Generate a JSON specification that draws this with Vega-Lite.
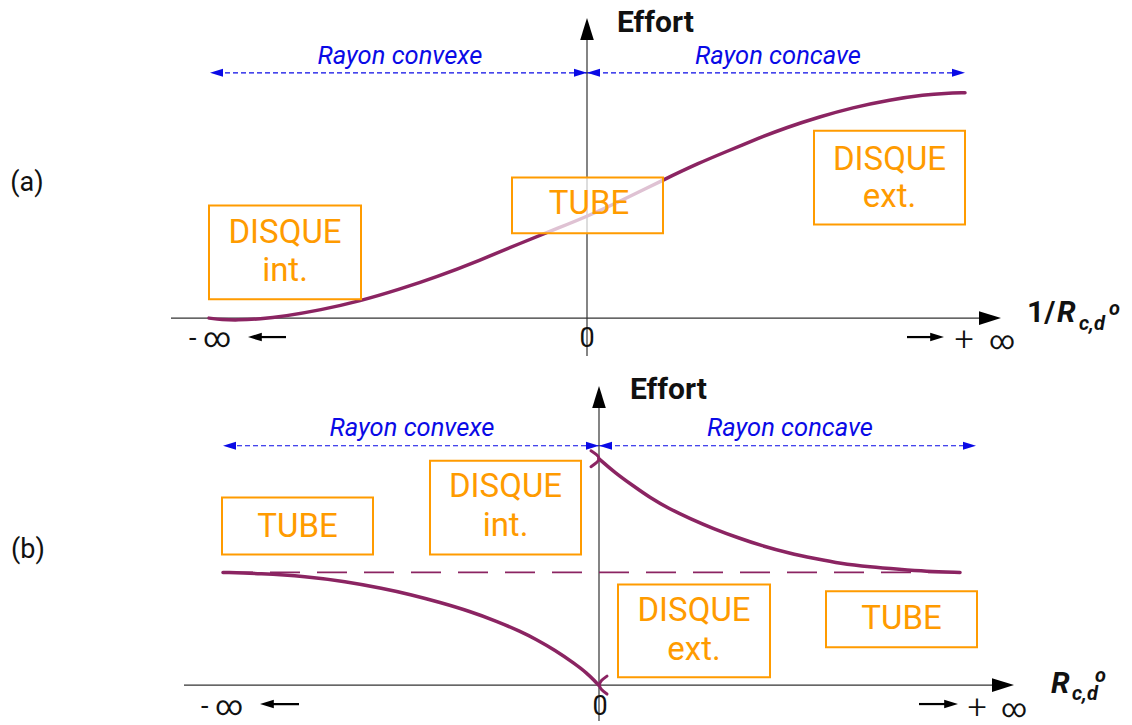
{
  "$schema": "https://vega.github.io/schema/vega-lite/v6.json",
  "background": "white",
  "padding": 0,
  "autosize": {"type": "fit", "contains": "padding"},
  "width": 1132,
  "height": 725,
  "config": {"view": {"stroke": null}, "font": "Roboto"},
  "datasets": {
    "axes": [
      {"panel": "a", "x": -4.16, "x2": 4.05, "y": 4.06, "y2": 4.06},
      {"panel": "a", "x": 0, "x2": 0, "y": 3.68, "y2": 6.96},
      {"panel": "b", "x": -4.03, "x2": 4.17, "y": 0.38, "y2": 0.38},
      {"panel": "b", "x": 0.12, "x2": 0.12, "y": 0.02, "y2": 3.28}
    ],
    "axisHeads": [
      {"panel": "a", "x": 4.14, "y": 4.06, "dir": "right"},
      {"panel": "a", "x": 0, "y": 7.07, "dir": "up"},
      {"panel": "b", "x": 4.27, "y": 0.38, "dir": "right"},
      {"panel": "b", "x": 0.12, "y": 3.38, "dir": "up"}
    ],
    "spans": [
      {"panel": "a", "x": -3.7, "x2": 0, "y": 6.52, "y2": 6.52},
      {"panel": "a", "x": 0, "x2": 3.72, "y": 6.52, "y2": 6.52},
      {"panel": "b", "x": -3.58, "x2": 0.12, "y": 2.78, "y2": 2.78},
      {"panel": "b", "x": 0.12, "x2": 3.83, "y": 2.78, "y2": 2.78}
    ],
    "spanHeads": [
      {"panel": "a", "x": -3.77, "y": 6.52, "dir": "left"},
      {"panel": "a", "x": 0, "y": 6.52, "dir": "right"},
      {"panel": "a", "x": 0, "y": 6.52, "dir": "left"},
      {"panel": "a", "x": 3.78, "y": 6.52, "dir": "right"},
      {"panel": "b", "x": -3.64, "y": 2.78, "dir": "left"},
      {"panel": "b", "x": 0.12, "y": 2.78, "dir": "right"},
      {"panel": "b", "x": 0.12, "y": 2.78, "dir": "left"},
      {"panel": "b", "x": 3.89, "y": 2.78, "dir": "right"}
    ],
    "spanLabels": [
      {"panel": "a", "x": -1.87, "y": 6.61, "text": "Rayon convexe"},
      {"panel": "a", "x": 1.91, "y": 6.61, "text": "Rayon concave"},
      {"panel": "b", "x": -1.75, "y": 2.88, "text": "Rayon convexe"},
      {"panel": "b", "x": 2.03, "y": 2.88, "text": "Rayon concave"}
    ],
    "asymptote": [{"panel": "b", "x": -3.64, "x2": 3.73, "y": 1.51, "y2": 1.51}],
    "curves": [
      {"branch": "a", "x": -3.78, "y": 4.06}, {"branch": "a", "x": -3.65, "y": 4.045}, {"branch": "a", "x": -3.5, "y": 4.04},
      {"branch": "a", "x": -3.27, "y": 4.05}, {"branch": "a", "x": -3.02, "y": 4.08}, {"branch": "a", "x": -2.67, "y": 4.14},
      {"branch": "a", "x": -2.27, "y": 4.23}, {"branch": "a", "x": -1.87, "y": 4.35}, {"branch": "a", "x": -1.51, "y": 4.47},
      {"branch": "a", "x": -1.07, "y": 4.64}, {"branch": "a", "x": -0.67, "y": 4.81}, {"branch": "a", "x": -0.27, "y": 4.97},
      {"branch": "a", "x": 0.0, "y": 5.08}, {"branch": "a", "x": 0.33, "y": 5.23}, {"branch": "a", "x": 0.77, "y": 5.45},
      {"branch": "a", "x": 1.13, "y": 5.62}, {"branch": "a", "x": 1.37, "y": 5.72}, {"branch": "a", "x": 1.73, "y": 5.87},
      {"branch": "a", "x": 1.99, "y": 5.97}, {"branch": "a", "x": 2.33, "y": 6.08}, {"branch": "a", "x": 2.65, "y": 6.17},
      {"branch": "a", "x": 3.03, "y": 6.25}, {"branch": "a", "x": 3.38, "y": 6.3}, {"branch": "a", "x": 3.58, "y": 6.315},
      {"branch": "a", "x": 3.78, "y": 6.32},
      {"branch": "b convexe", "x": -3.64, "y": 1.51}, {"branch": "b convexe", "x": -3.27, "y": 1.5}, {"branch": "b convexe", "x": -2.81, "y": 1.47},
      {"branch": "b convexe", "x": -2.42, "y": 1.42}, {"branch": "b convexe", "x": -2.04, "y": 1.35}, {"branch": "b convexe", "x": -1.77, "y": 1.29},
      {"branch": "b convexe", "x": -1.47, "y": 1.21}, {"branch": "b convexe", "x": -1.17, "y": 1.12}, {"branch": "b convexe", "x": -0.9, "y": 1.02},
      {"branch": "b convexe", "x": -0.67, "y": 0.92}, {"branch": "b convexe", "x": -0.51, "y": 0.84}, {"branch": "b convexe", "x": -0.32, "y": 0.73},
      {"branch": "b convexe", "x": -0.13, "y": 0.6}, {"branch": "b convexe", "x": 0.0, "y": 0.5}, {"branch": "b convexe", "x": 0.08, "y": 0.42},
      {"branch": "b convexe", "x": 0.115, "y": 0.38},
      {"branch": "b concave", "x": 0.12, "y": 2.65}, {"branch": "b concave", "x": 0.28, "y": 2.51}, {"branch": "b concave", "x": 0.46, "y": 2.38},
      {"branch": "b concave", "x": 0.63, "y": 2.26}, {"branch": "b concave", "x": 0.82, "y": 2.15}, {"branch": "b concave", "x": 1.03, "y": 2.05},
      {"branch": "b concave", "x": 1.26, "y": 1.95}, {"branch": "b concave", "x": 1.53, "y": 1.85}, {"branch": "b concave", "x": 1.74, "y": 1.78},
      {"branch": "b concave", "x": 2.03, "y": 1.7}, {"branch": "b concave", "x": 2.28, "y": 1.65}, {"branch": "b concave", "x": 2.53, "y": 1.6},
      {"branch": "b concave", "x": 2.83, "y": 1.565}, {"branch": "b concave", "x": 3.13, "y": 1.54}, {"branch": "b concave", "x": 3.38, "y": 1.52},
      {"branch": "b concave", "x": 3.73, "y": 1.51}
    ],
    "brackets": [
      {"end": "top", "i": 0, "x": 0.04, "y": 2.73}, {"end": "top", "i": 1, "x": 0.095, "y": 2.69}, {"end": "top", "i": 2, "x": 0.12, "y": 2.65},
      {"end": "top", "i": 3, "x": 0.095, "y": 2.61}, {"end": "top", "i": 4, "x": 0.04, "y": 2.57},
      {"end": "bottom", "i": 0, "x": 0.2, "y": 0.47}, {"end": "bottom", "i": 1, "x": 0.145, "y": 0.425}, {"end": "bottom", "i": 2, "x": 0.125, "y": 0.38},
      {"end": "bottom", "i": 3, "x": 0.145, "y": 0.335}, {"end": "bottom", "i": 4, "x": 0.2, "y": 0.29}
    ],
    "boxes": [
      {"panel": "a", "x": -3.78, "x2": -2.26, "y": 5.19, "y2": 4.25},
      {"panel": "a", "x": -0.75, "x2": 0.76, "y": 5.47, "y2": 4.91},
      {"panel": "a", "x": 2.27, "x2": 3.78, "y": 5.94, "y2": 5.0},
      {"panel": "b", "x": -3.65, "x2": -2.14, "y": 2.26, "y2": 1.69},
      {"panel": "b", "x": -1.57, "x2": -0.06, "y": 2.63, "y2": 1.69},
      {"panel": "b", "x": 0.31, "x2": 1.83, "y": 1.39, "y2": 0.46},
      {"panel": "b", "x": 2.39, "x2": 3.9, "y": 1.32, "y2": 0.76}
    ],
    "boxText": [
      {"panel": "a", "x": -3.02, "y": 4.81, "text": "DISQUE"},
      {"panel": "a", "x": -3.02, "y": 4.43, "text": "int."},
      {"panel": "a", "x": 0.02, "y": 5.1, "text": "TUBE"},
      {"panel": "a", "x": 3.025, "y": 5.55, "text": "DISQUE"},
      {"panel": "a", "x": 3.025, "y": 5.17, "text": "ext."},
      {"panel": "b", "x": -2.895, "y": 1.87, "text": "TUBE"},
      {"panel": "b", "x": -0.815, "y": 2.27, "text": "DISQUE"},
      {"panel": "b", "x": -0.815, "y": 1.88, "text": "int."},
      {"panel": "b", "x": 1.07, "y": 1.02, "text": "DISQUE"},
      {"panel": "b", "x": 1.07, "y": 0.63, "text": "ext."},
      {"panel": "b", "x": 3.145, "y": 0.94, "text": "TUBE"}
    ],
    "ends": [
      {"panel": "a", "x": 0, "y": 3.77, "text": "0"},
      {"panel": "a", "x": -3.77, "y": 3.77, "text": "- ∞"},
      {"panel": "b", "x": 0.13, "y": 0.08, "text": "0"},
      {"panel": "b", "x": -3.65, "y": 0.08, "text": "- ∞"}
    ],
    "plusEnds": [
      {"panel": "a", "x": 3.77, "y": 3.74, "text": "+"},
      {"panel": "b", "x": 3.9, "y": 0.05, "text": "+"}
    ],
    "infEnds": [
      {"panel": "a", "x": 4.15, "y": 3.75, "text": "∞"},
      {"panel": "b", "x": 4.27, "y": 0.06, "text": "∞"}
    ],
    "infLines": [
      {"panel": "a", "x": -3.01, "x2": -3.33, "y": 3.87, "y2": 3.87},
      {"panel": "a", "x": 3.2, "x2": 3.5, "y": 3.87, "y2": 3.87},
      {"panel": "b", "x": -2.88, "x2": -3.21, "y": 0.19, "y2": 0.19},
      {"panel": "b", "x": 3.32, "x2": 3.64, "y": 0.19, "y2": 0.19}
    ],
    "infHeads": [
      {"panel": "a", "x": -3.39, "y": 3.87, "dir": "left"},
      {"panel": "a", "x": 3.57, "y": 3.87, "dir": "right"},
      {"panel": "b", "x": -3.27, "y": 0.19, "dir": "left"},
      {"panel": "b", "x": 3.71, "y": 0.19, "dir": "right"}
    ],
    "titles": [
      {"panel": "a", "x": 0.3, "y": 6.93, "text": "Effort"},
      {"panel": "b", "x": 0.43, "y": 3.25, "text": "Effort"}
    ],
    "panelLabels": [
      {"panel": "a", "x": -5.6, "y": 5.33, "text": "(a)"},
      {"panel": "b", "x": -5.59, "y": 1.65, "text": "(b)"}
    ],
    "mathUp": [{"panel": "a", "x": 4.4, "y": 4.02, "text": "1/"}],
    "mathIt": [
      {"panel": "a", "x": 4.7, "y": 4.02, "text": "R"},
      {"panel": "b", "x": 4.64, "y": 0.3, "text": "R"}
    ],
    "mathScript": [
      {"panel": "a", "x": 4.92, "y": 3.94, "text": "c,d"},
      {"panel": "a", "x": 5.22, "y": 4.09, "text": "o"},
      {"panel": "b", "x": 4.85, "y": 0.23, "text": "c,d"},
      {"panel": "b", "x": 5.08, "y": 0.41, "text": "o"}
    ]
  },
  "encoding": {
    "x": {"field": "x", "type": "quantitative", "scale": {"domain": [-5.87, 5.45], "nice": false, "zero": false}, "axis": null},
    "y": {"field": "y", "type": "quantitative", "scale": {"domain": [0, 7.25], "nice": false, "zero": false}, "axis": null}
  },
  "layer": [
    {"data": {"name": "spans"}, "mark": {"type": "rule", "color": "#0a0ae6", "strokeWidth": 1.2, "strokeDash": [5, 3]}, "encoding": {"x2": {"field": "x2"}, "y2": {"field": "y2"}}},
    {"data": {"name": "spanHeads"}, "mark": {"type": "point", "filled": true, "opacity": 1, "color": "#0a0ae6", "size": 169, "strokeWidth": 0},
     "encoding": {"shape": {"field": "dir", "type": "nominal", "legend": null, "scale": {"domain": ["left", "right", "up"], "range": ["M0,0L2,-0.62L2,0.62Z", "M0,0L-2,-0.62L-2,0.62Z", "M0,0L-0.62,2L0.62,2Z"]}}}},
    {"data": {"name": "spanLabels"}, "mark": {"type": "text", "font": "Roboto", "fontSize": 25.5, "fontStyle": "italic", "color": "#0a0ae6", "align": "center", "baseline": "alphabetic"}, "encoding": {"text": {"field": "text"}}},
    {"data": {"name": "axes"}, "mark": {"type": "rule", "color": "#333333", "strokeWidth": 1.2}, "encoding": {"x2": {"field": "x2"}, "y2": {"field": "y2"}}},
    {"data": {"name": "axisHeads"}, "mark": {"type": "point", "filled": true, "opacity": 1, "color": "black", "size": 484, "strokeWidth": 0},
     "encoding": {"shape": {"field": "dir", "type": "nominal", "legend": null, "scale": {"domain": ["left", "right", "up"], "range": ["M0,0L2,-0.62L2,0.62Z", "M0,0L-2,-0.62L-2,0.62Z", "M0,0L-0.62,2L0.62,2Z"]}}}},
    {"data": {"name": "asymptote"}, "mark": {"type": "rule", "color": "#8b2462", "strokeWidth": 1.8, "strokeDash": [30, 17]}, "encoding": {"x2": {"field": "x2"}, "y2": {"field": "y2"}}},
    {"data": {"name": "curves"}, "mark": {"type": "line", "color": "#8b2462", "strokeWidth": 3.5, "interpolate": "basis", "strokeCap": "round"}, "encoding": {"detail": {"field": "branch"}}},
    {"data": {"name": "brackets"}, "mark": {"type": "line", "color": "#8b2462", "strokeWidth": 3, "interpolate": "natural", "strokeCap": "round"}, "encoding": {"detail": {"field": "end"}, "order": {"field": "i", "type": "quantitative"}}},
    {"data": {"name": "boxes"}, "mark": {"type": "rect", "fill": "white", "fillOpacity": 0.72, "stroke": "#ff9b00", "strokeWidth": 2}, "encoding": {"x2": {"field": "x2"}, "y2": {"field": "y2"}}},
    {"data": {"name": "boxText"}, "mark": {"type": "text", "font": "Roboto", "fontSize": 33, "color": "#ff9b00", "align": "center", "baseline": "alphabetic"}, "encoding": {"text": {"field": "text"}}},
    {"data": {"name": "ends"}, "mark": {"type": "text", "font": "Roboto", "fontSize": 27, "color": "#111111", "align": "center", "baseline": "alphabetic"}, "encoding": {"text": {"field": "text"}}},
    {"data": {"name": "plusEnds"}, "mark": {"type": "text", "font": "Roboto", "fontSize": 34, "fontWeight": 300, "color": "#111111", "align": "center", "baseline": "alphabetic"}, "encoding": {"text": {"field": "text"}}},
    {"data": {"name": "infEnds"}, "mark": {"type": "text", "font": "Roboto", "fontSize": 25, "color": "#111111", "align": "center", "baseline": "alphabetic"}, "encoding": {"text": {"field": "text"}}},
    {"data": {"name": "infLines"}, "mark": {"type": "rule", "color": "black", "strokeWidth": 2.2}, "encoding": {"x2": {"field": "x2"}, "y2": {"field": "y2"}}},
    {"data": {"name": "infHeads"}, "mark": {"type": "point", "filled": true, "opacity": 1, "color": "black", "size": 190, "strokeWidth": 0},
     "encoding": {"shape": {"field": "dir", "type": "nominal", "legend": null, "scale": {"domain": ["left", "right", "up"], "range": ["M0,0L2,-0.62L2,0.62Z", "M0,0L-2,-0.62L-2,0.62Z", "M0,0L-0.62,2L0.62,2Z"]}}}},
    {"data": {"name": "titles"}, "mark": {"type": "text", "font": "Roboto", "fontSize": 30, "fontWeight": "bold", "color": "#111111", "align": "left", "baseline": "alphabetic"}, "encoding": {"text": {"field": "text"}}},
    {"data": {"name": "panelLabels"}, "mark": {"type": "text", "font": "Roboto", "fontSize": 27, "color": "#111111", "align": "center", "baseline": "alphabetic"}, "encoding": {"text": {"field": "text"}}},
    {"data": {"name": "mathUp"}, "mark": {"type": "text", "font": "Roboto", "fontSize": 30, "fontWeight": "bold", "color": "#111111", "align": "left", "baseline": "alphabetic"}, "encoding": {"text": {"field": "text"}}},
    {"data": {"name": "mathIt"}, "mark": {"type": "text", "font": "Roboto", "fontSize": 30, "fontWeight": "bold", "fontStyle": "italic", "color": "#111111", "align": "left", "baseline": "alphabetic"}, "encoding": {"text": {"field": "text"}}},
    {"data": {"name": "mathScript"}, "mark": {"type": "text", "font": "Roboto", "fontSize": 20, "fontWeight": "bold", "fontStyle": "italic", "color": "#111111", "align": "left", "baseline": "alphabetic"}, "encoding": {"text": {"field": "text"}}}
  ]
}
